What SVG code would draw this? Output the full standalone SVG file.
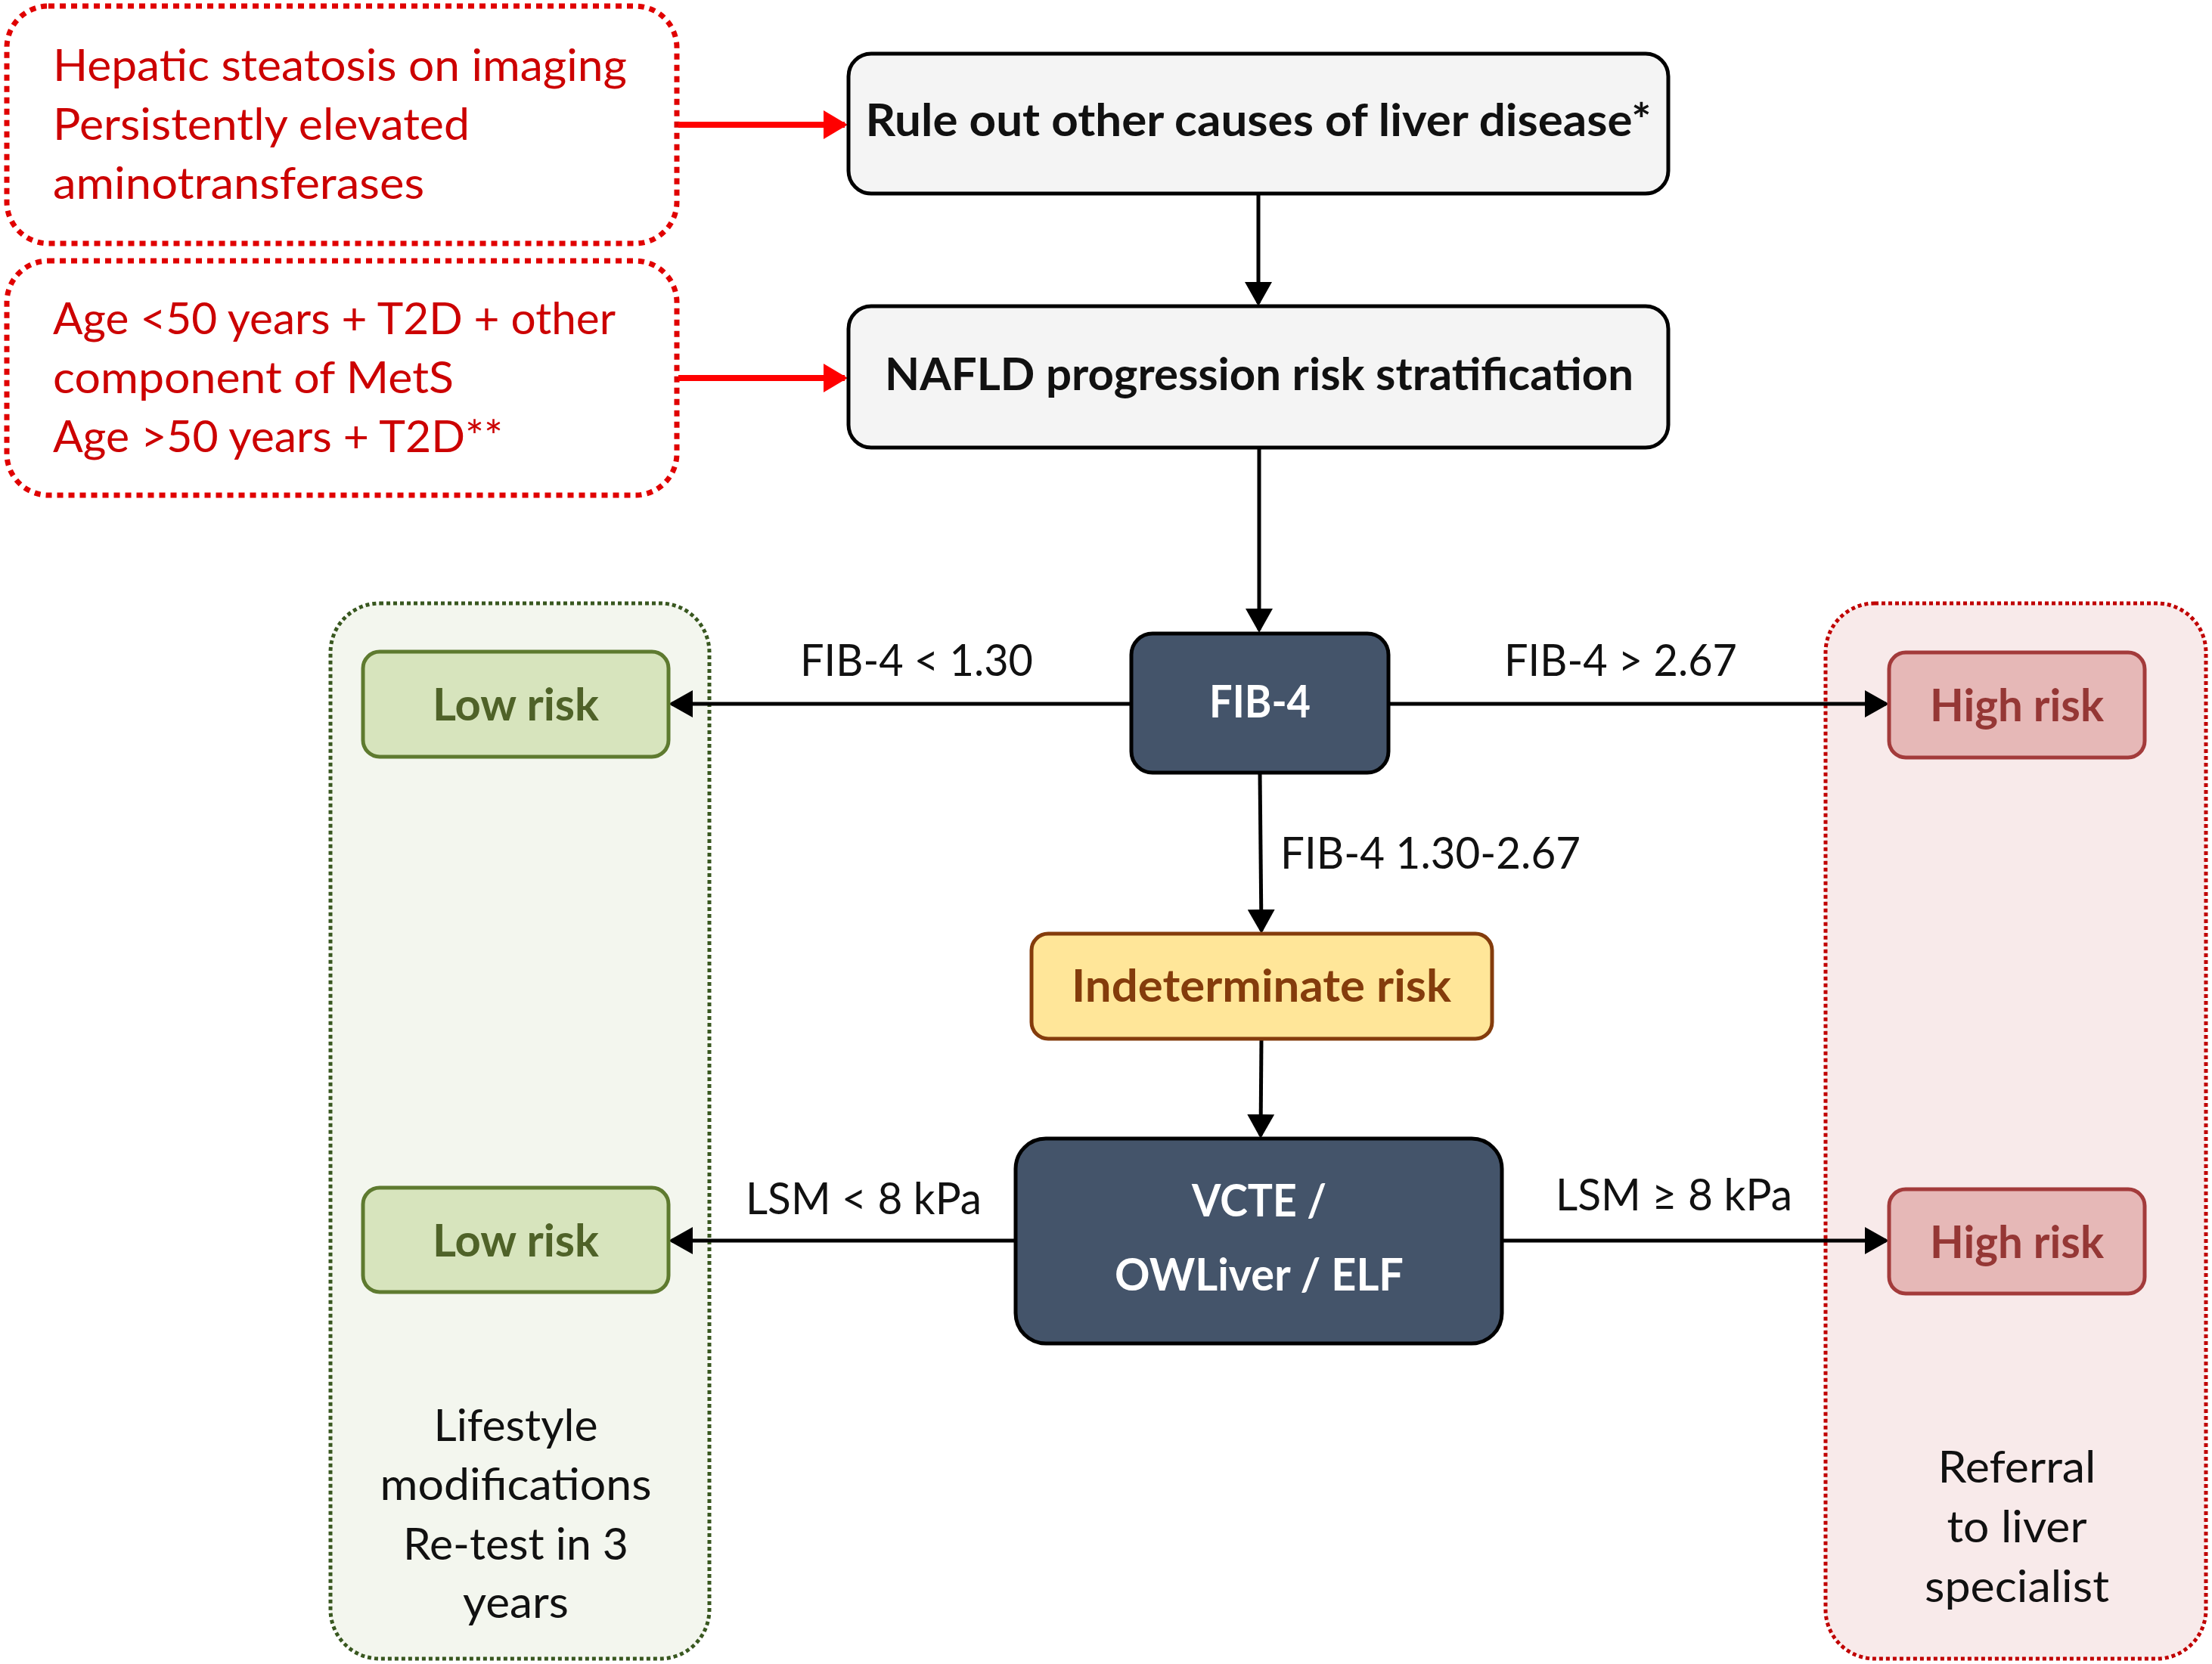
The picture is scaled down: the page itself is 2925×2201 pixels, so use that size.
<svg xmlns="http://www.w3.org/2000/svg" width="2925" height="2201" viewBox="0 0 2925 2201">
<defs>
<style>
.t{font-family:Lato,"Open Sans","Liberation Sans",sans-serif;font-size:59px;}
.b{font-weight:bold;}
.red{fill:#CC0000;}
.blk{fill:#111111;}
.wht{fill:#FFFFFF;}
.conn{stroke:#000000;stroke-width:5;fill:none;marker-end:url(#ah);}
.rconn{stroke:#FF0000;stroke-width:8;fill:none;marker-end:url(#rah);}
.grey{fill:#F4F4F4;stroke:#000000;stroke-width:5;}
.dark{fill:#44546A;stroke:#000000;stroke-width:5;}
.low{fill:#D7E4BD;stroke:#5E7A2F;stroke-width:5;}
.high{fill:#E6B8B7;stroke:#A33B3B;stroke-width:5;}
.ind{fill:#FFE699;stroke:#843C0C;stroke-width:5;}
.lowt{fill:#4F6228;}
.hight{fill:#953735;}
.indt{fill:#843C0C;}
.rbox{fill:#FFFFFF;stroke:#E00000;stroke-width:7;stroke-dasharray:8 7;}
.gcont{fill:#F3F6EE;stroke:#38571F;stroke-width:5;stroke-dasharray:5 4;}
.rcont{fill:#F8EAEA;stroke:#C00000;stroke-width:5;stroke-dasharray:5 4;}
</style>
<marker id="ah" markerUnits="userSpaceOnUse" markerWidth="34" markerHeight="36" refX="28" refY="18" orient="auto">
<path d="M0,0 L32,18 L0,36 Z" fill="#000000"/>
</marker>
<marker id="rah" markerUnits="userSpaceOnUse" markerWidth="34" markerHeight="38" refX="28" refY="19" orient="auto">
<path d="M0,0 L32,19 L0,38 Z" fill="#FF0000"/>
</marker>
</defs>
<rect width="2925" height="2201" fill="#FFFFFF"/>

<g id="container-low">
<rect class="gcont" x="437" y="798" width="501" height="1396" rx="65"/>
<text class="t blk" text-anchor="middle" x="682" y="1906" textLength="217" lengthAdjust="spacingAndGlyphs">Lifestyle</text>
<text class="t blk" text-anchor="middle" x="682" y="1984" textLength="359" lengthAdjust="spacingAndGlyphs">modifications</text>
<text class="t blk" text-anchor="middle" x="682" y="2063" textLength="298" lengthAdjust="spacingAndGlyphs">Re-test in 3</text>
<text class="t blk" text-anchor="middle" x="682" y="2140" textLength="140" lengthAdjust="spacingAndGlyphs">years</text>
</g>
<g id="container-high">
<rect class="rcont" x="2414" y="798" width="503" height="1396" rx="65"/>
<text class="t blk" text-anchor="middle" x="2667" y="1961" textLength="209" lengthAdjust="spacingAndGlyphs">Referral</text>
<text class="t blk" text-anchor="middle" x="2667" y="2040" textLength="185" lengthAdjust="spacingAndGlyphs">to liver</text>
<text class="t blk" text-anchor="middle" x="2667" y="2119" textLength="244" lengthAdjust="spacingAndGlyphs">specialist</text>
</g>

<g id="criteria-1">
<rect class="rbox" x="9" y="8" width="886" height="314" rx="55"/>
<text class="t red" x="70" y="107" textLength="759" lengthAdjust="spacingAndGlyphs">Hepatic steatosis on imaging</text>
<text class="t red" x="70" y="185" textLength="551" lengthAdjust="spacingAndGlyphs">Persistently elevated</text>
<text class="t red" x="70" y="263" textLength="491" lengthAdjust="spacingAndGlyphs">aminotransferases</text>
</g>
<g id="criteria-2">
<rect class="rbox" x="9" y="345" width="886" height="310" rx="55"/>
<text class="t red" x="70" y="442" textLength="744" lengthAdjust="spacingAndGlyphs">Age &lt;50 years + T2D + other</text>
<text class="t red" x="70" y="520" textLength="530" lengthAdjust="spacingAndGlyphs">component of MetS</text>
<text class="t red" x="70" y="598" textLength="595" lengthAdjust="spacingAndGlyphs">Age &gt;50 years + T2D**</text>
</g>

<g id="connectors">
<path class="rconn" d="M897,165 L1117,165"/>
<path class="rconn" d="M897,500 L1117,500"/>
<path class="conn" d="M1664,256 L1664,401"/>
<path class="conn" d="M1665,592 L1665,833"/>
<path class="conn" d="M1666,1022 L1668,1231"/>
<path class="conn" d="M1668,1374 L1667,1502"/>
<path class="conn" d="M1496,931 L888,931"/>
<path class="conn" d="M1836,931 L2494,931"/>
<path class="conn" d="M1343,1641 L888,1641"/>
<path class="conn" d="M1986,1641 L2494,1641"/>
<text class="t blk" x="1058" y="894" textLength="308" lengthAdjust="spacingAndGlyphs">FIB-4 &lt; 1.30</text>
<text class="t blk" x="1989" y="894" textLength="308" lengthAdjust="spacingAndGlyphs">FIB-4 &gt; 2.67</text>
<text class="t blk" x="1693" y="1149" textLength="397" lengthAdjust="spacingAndGlyphs">FIB-4 1.30-2.67</text>
<text class="t blk" x="986" y="1606" textLength="312" lengthAdjust="spacingAndGlyphs">LSM &lt; 8 kPa</text>
<text class="t blk" x="2057" y="1601" textLength="313" lengthAdjust="spacingAndGlyphs">LSM ≥ 8 kPa</text>
</g>

<g id="rule-out">
<rect class="grey" x="1122" y="71" width="1084" height="185" rx="30"/>
<text class="t b blk" text-anchor="middle" x="1664" y="180" textLength="1039" lengthAdjust="spacingAndGlyphs">Rule out other causes of liver disease*</text>
</g>
<g id="nafld">
<rect class="grey" x="1122" y="405" width="1084" height="187" rx="30"/>
<text class="t b blk" text-anchor="middle" x="1665" y="516" textLength="990" lengthAdjust="spacingAndGlyphs">NAFLD progression risk stratification</text>
</g>
<g id="fib4">
<rect class="dark" x="1496" y="838" width="340" height="184" rx="28"/>
<text class="t b wht" text-anchor="middle" x="1666" y="949" textLength="134" lengthAdjust="spacingAndGlyphs">FIB-4</text>
</g>
<g id="low-risk-1">
<rect class="low" x="480" y="862" width="404" height="139" rx="22"/>
<text class="t b lowt" text-anchor="middle" x="682" y="953" textLength="220" lengthAdjust="spacingAndGlyphs">Low risk</text>
</g>
<g id="high-risk-1">
<rect class="high" x="2498" y="863" width="338" height="139" rx="22"/>
<text class="t b hight" text-anchor="middle" x="2667" y="954" textLength="230" lengthAdjust="spacingAndGlyphs">High risk</text>
</g>
<g id="indeterminate">
<rect class="ind" x="1364" y="1235" width="609" height="139" rx="22"/>
<text class="t b indt" text-anchor="middle" x="1668" y="1325" textLength="502" lengthAdjust="spacingAndGlyphs">Indeterminate risk</text>
</g>
<g id="vcte">
<rect class="dark" x="1343" y="1506" width="643" height="271" rx="40"/>
<text class="t b wht" text-anchor="middle" x="1665" y="1609" textLength="178" lengthAdjust="spacingAndGlyphs">VCTE /</text>
<text class="t b wht" text-anchor="middle" x="1665" y="1707" textLength="382" lengthAdjust="spacingAndGlyphs">OWLiver / ELF</text>
</g>
<g id="low-risk-2">
<rect class="low" x="480" y="1571" width="404" height="138" rx="22"/>
<text class="t b lowt" text-anchor="middle" x="682" y="1662" textLength="220" lengthAdjust="spacingAndGlyphs">Low risk</text>
</g>
<g id="high-risk-2">
<rect class="high" x="2498" y="1573" width="338" height="138" rx="22"/>
<text class="t b hight" text-anchor="middle" x="2667" y="1664" textLength="230" lengthAdjust="spacingAndGlyphs">High risk</text>
</g>
</svg>
